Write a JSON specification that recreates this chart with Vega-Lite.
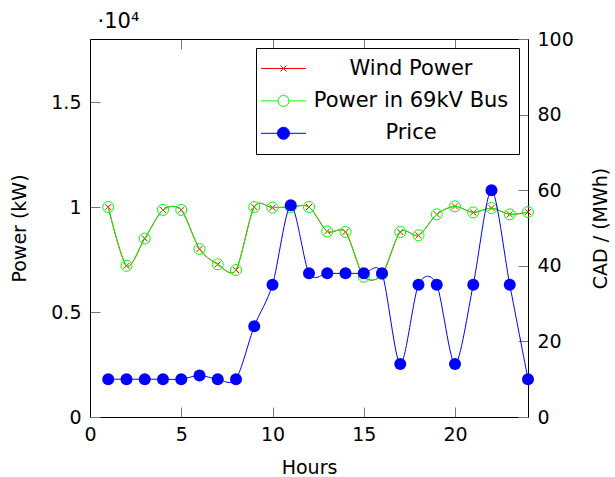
{
  "$schema": "https://vega.github.io/schema/vega-lite/v6.json",
  "width": 438,
  "height": 378,
  "autosize": "none",
  "padding": {"left": 90, "top": 39, "right": 87, "bottom": 60},
  "datasets": {
    "power": [
      {"hour": 1, "value": 10000, "series": "Wind Power"},
      {"hour": 2, "value": 7200, "series": "Wind Power"},
      {"hour": 3, "value": 8500, "series": "Wind Power"},
      {"hour": 4, "value": 9860, "series": "Wind Power"},
      {"hour": 5, "value": 9860, "series": "Wind Power"},
      {"hour": 6, "value": 8000, "series": "Wind Power"},
      {"hour": 7, "value": 7270, "series": "Wind Power"},
      {"hour": 8, "value": 7000, "series": "Wind Power"},
      {"hour": 9, "value": 10000, "series": "Wind Power"},
      {"hour": 10, "value": 9970, "series": "Wind Power"},
      {"hour": 11, "value": 10000, "series": "Wind Power"},
      {"hour": 12, "value": 10000, "series": "Wind Power"},
      {"hour": 13, "value": 8840, "series": "Wind Power"},
      {"hour": 14, "value": 8810, "series": "Wind Power"},
      {"hour": 15, "value": 6700, "series": "Wind Power"},
      {"hour": 16, "value": 6780, "series": "Wind Power"},
      {"hour": 17, "value": 8810, "series": "Wind Power"},
      {"hour": 18, "value": 8650, "series": "Wind Power"},
      {"hour": 19, "value": 9650, "series": "Wind Power"},
      {"hour": 20, "value": 10030, "series": "Wind Power"},
      {"hour": 21, "value": 9740, "series": "Wind Power"},
      {"hour": 22, "value": 9950, "series": "Wind Power"},
      {"hour": 23, "value": 9650, "series": "Wind Power"},
      {"hour": 24, "value": 9760, "series": "Wind Power"},
      {"hour": 1, "value": 10000, "series": "Power in 69kV Bus"},
      {"hour": 2, "value": 7200, "series": "Power in 69kV Bus"},
      {"hour": 3, "value": 8500, "series": "Power in 69kV Bus"},
      {"hour": 4, "value": 9860, "series": "Power in 69kV Bus"},
      {"hour": 5, "value": 9860, "series": "Power in 69kV Bus"},
      {"hour": 6, "value": 8000, "series": "Power in 69kV Bus"},
      {"hour": 7, "value": 7270, "series": "Power in 69kV Bus"},
      {"hour": 8, "value": 7000, "series": "Power in 69kV Bus"},
      {"hour": 9, "value": 10000, "series": "Power in 69kV Bus"},
      {"hour": 10, "value": 9970, "series": "Power in 69kV Bus"},
      {"hour": 11, "value": 10000, "series": "Power in 69kV Bus"},
      {"hour": 12, "value": 10000, "series": "Power in 69kV Bus"},
      {"hour": 13, "value": 8840, "series": "Power in 69kV Bus"},
      {"hour": 14, "value": 8810, "series": "Power in 69kV Bus"},
      {"hour": 15, "value": 6680, "series": "Power in 69kV Bus"},
      {"hour": 16, "value": 6800, "series": "Power in 69kV Bus"},
      {"hour": 17, "value": 8810, "series": "Power in 69kV Bus"},
      {"hour": 18, "value": 8650, "series": "Power in 69kV Bus"},
      {"hour": 19, "value": 9650, "series": "Power in 69kV Bus"},
      {"hour": 20, "value": 10030, "series": "Power in 69kV Bus"},
      {"hour": 21, "value": 9740, "series": "Power in 69kV Bus"},
      {"hour": 22, "value": 9950, "series": "Power in 69kV Bus"},
      {"hour": 23, "value": 9650, "series": "Power in 69kV Bus"},
      {"hour": 24, "value": 9760, "series": "Power in 69kV Bus"}
    ],
    "price": [
      {"hour": 1, "value": 10, "series": "Price"},
      {"hour": 2, "value": 10, "series": "Price"},
      {"hour": 3, "value": 10, "series": "Price"},
      {"hour": 4, "value": 10, "series": "Price"},
      {"hour": 5, "value": 10, "series": "Price"},
      {"hour": 6, "value": 11, "series": "Price"},
      {"hour": 7, "value": 10, "series": "Price"},
      {"hour": 8, "value": 10, "series": "Price"},
      {"hour": 9, "value": 24, "series": "Price"},
      {"hour": 10, "value": 35, "series": "Price"},
      {"hour": 11, "value": 56, "series": "Price"},
      {"hour": 12, "value": 38, "series": "Price"},
      {"hour": 13, "value": 38, "series": "Price"},
      {"hour": 14, "value": 38, "series": "Price"},
      {"hour": 15, "value": 38, "series": "Price"},
      {"hour": 16, "value": 38, "series": "Price"},
      {"hour": 17, "value": 14, "series": "Price"},
      {"hour": 18, "value": 35, "series": "Price"},
      {"hour": 19, "value": 35, "series": "Price"},
      {"hour": 20, "value": 14, "series": "Price"},
      {"hour": 21, "value": 35, "series": "Price"},
      {"hour": 22, "value": 60, "series": "Price"},
      {"hour": 23, "value": 35, "series": "Price"},
      {"hour": 24, "value": 10, "series": "Price"}
    ]
  },
  "config": {
    "view": {"stroke": null},
    "axis": {
      "grid": false,
      "labelFont": "DejaVu Sans",
      "titleFont": "DejaVu Sans",
      "labelFontSize": 19,
      "titleFontSize": 19,
      "titleFontWeight": "normal",
      "labelColor": "black",
      "titleColor": "black",
      "domainColor": "#000000",
      "domainWidth": 1,
      "tickColor": "#777777",
      "tickWidth": 1,
      "tickSize": -10
    }
  },
  "layer": [
    {
      "data": {"name": "power"},
      "encoding": {
        "x": {"field": "hour", "type": "quantitative", "scale": {"domain": [0, 24], "nice": false, "zero": false},
              "axis": {"orient": "bottom", "title": "Hours", "values": [0, 5, 10, 15, 20], "labelPadding": 18, "titlePadding": 14, "labelFlush": false}},
        "y": {"field": "value", "type": "quantitative", "scale": {"domain": [0, 18000], "nice": false},
              "axis": {"orient": "left", "title": "Power (kW)", "values": [0, 5000, 10000, 15000], "labelExpr": "datum.value / 10000", "labelPadding": 19, "titlePadding": 21}},
        "color": {"field": "series", "type": "nominal",
                  "scale": {"domain": ["Wind Power", "Power in 69kV Bus", "Price"], "range": ["#ff0000", "#00ff00", "#0000ff"]},
                  "legend": {
                    "title": null,
                    "orient": "top-right",
                    "offset": 9,
                    "padding": 10,
                    "strokeColor": "black",
                    "fillColor": "white",
                    "cornerRadius": 0,
                    "labelFont": "DejaVu Sans",
                    "labelFontSize": 21,
                    "labelColor": "black",
                    "labelAlign": "center",
                    "labelOffset": 117,
                    "labelLimit": 400,
                    "rowPadding": 10.4,
                    "symbolOffset": 7,
                    "symbolSize": 100,
                    "symbolStrokeWidth": 1,
                    "encode": {
                      "symbols": {
                        "update": {
                          "shape": {"signal": "datum.value === 'Wind Power' ? 'M-4.5,0H4.5M-0.6,-0.6L0.6,0.6M-0.6,0.6L0.6,-0.6' : datum.value === 'Price' ? 'M-4.5,0H4.5M-1.2,0A1.2,1.2,0,1,1,1.2,0A1.2,1.2,0,1,1,-1.2,0Z' : 'M-4.5,0H-1.1M1.1,0H4.5M-1.1,0A1.1,1.1,0,1,1,1.1,0A1.1,1.1,0,1,1,-1.1,0Z'"},
                          "fill": {"signal": "datum.value === 'Price' ? '#0000ff' : 'transparent'"},
                          "fillOpacity": {"signal": "datum.value === 'Price' ? 1 : 0"},
                          "stroke": {"signal": "datum.value === 'Wind Power' ? '#ff0000' : datum.value === 'Price' ? '#0000ff' : '#00ff00'"},
                          "strokeWidth": {"value": 1},
                          "size": {"value": 100},
                          "opacity": {"value": 1}
                        }
                      }
                    }
                  }}
      },
      "layer": [
        {"transform": [{"filter": "datum.series === 'Wind Power'"}],
         "mark": {"type": "line", "strokeWidth": 1, "interpolate": "cardinal", "tension": 0.15}},
        {"transform": [{"filter": "datum.series === 'Wind Power'"}],
         "mark": {"type": "point", "shape": "M-1,-1L1,1M-1,1L1,-1", "size": 36, "filled": false, "strokeWidth": 1, "opacity": 1}},
        {"transform": [{"filter": "datum.series === 'Power in 69kV Bus'"}],
         "mark": {"type": "line", "strokeWidth": 1, "interpolate": "cardinal", "tension": 0.15}},
        {"transform": [{"filter": "datum.series === 'Power in 69kV Bus'"}],
         "mark": {"type": "point", "shape": "circle", "size": 121, "filled": false, "strokeWidth": 1, "opacity": 1}}
      ]
    },
    {
      "data": {"name": "price"},
      "encoding": {
        "x": {"field": "hour", "type": "quantitative", "scale": {"domain": [0, 24], "nice": false, "zero": false},
              "axis": {"orient": "top", "title": "·10⁴", "labels": false, "values": [0, 5, 10, 15, 20],
                       "titleX": 7, "titleY": -12, "titleAlign": "left", "titleAnchor": "start", "titleBaseline": "alphabetic", "titleAngle": 0, "titleFontSize": 21}},
        "y": {"field": "value", "type": "quantitative", "scale": {"domain": [0, 100], "nice": false},
              "axis": {"orient": "right", "title": "CAD / (MWh)", "titleAngle": 270, "values": [0, 20, 40, 60, 80, 100], "labelPadding": 19, "titlePadding": 37}},
        "color": {"field": "series", "type": "nominal",
                  "scale": {"domain": ["Wind Power", "Power in 69kV Bus", "Price"], "range": ["#ff0000", "#00ff00", "#0000ff"]}}
      },
      "layer": [
        {"mark": {"type": "line", "strokeWidth": 1, "interpolate": "cardinal", "tension": 0.15}},
        {"mark": {"type": "point", "shape": "circle", "size": 144, "filled": true, "strokeWidth": 0, "opacity": 1}}
      ]
    }
  ],
  "resolve": {"scale": {"y": "independent"}, "axis": {"x": "independent", "y": "independent"}}
}
